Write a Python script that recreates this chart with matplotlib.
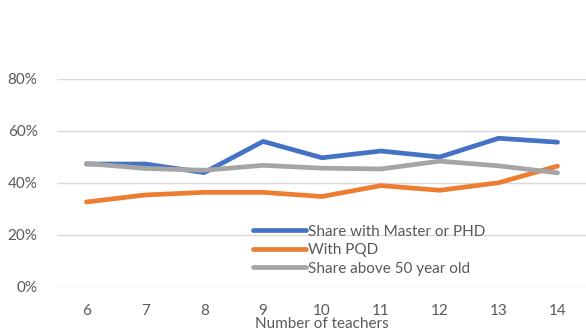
import numpy as np
import matplotlib
matplotlib.use("Agg")
import matplotlib.pyplot as plt

plt.rcParams['font.family'] = ['Lato', 'DejaVu Sans']

# Data
teachers = ['6', '7', '8', '9', '10', '11', '12', '13', '14']
master_phd = [0.473, 0.473, 0.44, 0.56, 0.497, 0.523, 0.50, 0.572, 0.557]
with_pqd = [0.327, 0.354, 0.364, 0.364, 0.348, 0.39, 0.372, 0.401, 0.465]
above_50 = [0.475, 0.456, 0.449, 0.468, 0.457, 0.454, 0.484, 0.466, 0.439]
yticks = [0, 0.2, 0.4, 0.6, 0.8]

fig = plt.figure(figsize=(5.86, 3.35), dpi=100)
ax = fig.add_axes([57/586, 1-287/335, 530/586, 208/335])

x = np.arange(len(teachers))
lw = 3.4
l1, = ax.plot(x, master_phd, color='#4472C4', lw=lw, solid_capstyle='round', solid_joinstyle='round', label='Share with Master or PHD')
l2, = ax.plot(x, with_pqd, color='#ED7D31', lw=lw, solid_capstyle='round', solid_joinstyle='round', label='With PQD')
l3, = ax.plot(x, above_50, color='#A5A5A5', lw=lw, solid_capstyle='round', solid_joinstyle='round', label='Share above 50 year old')

ax.set_xlim(-0.5, len(teachers)-0.5)
ax.set_ylim(0, 0.8)
ax.set_yticks(yticks)
ax.set_yticklabels(['%d%%' % round(v*100) for v in yticks])
ax.set_xticks(x)
ax.set_xticklabels(teachers)
ax.grid(axis='y', color='#D9D9D9', lw=1)
ax.set_axisbelow(True)
for s in ax.spines.values():
    s.set_visible(False)
ax.tick_params(length=0, colors='#595959', labelsize=11)
ax.tick_params(axis='y', pad=14)
ax.tick_params(axis='x', pad=12)
ax.set_xlabel('Number of teachers', color='#595959', fontsize=11)
ax.xaxis.set_label_coords((322-57)/530, -(317-287)/208)

leg = fig.legend(handles=[l1, l2, l3], loc='upper left',
                 bbox_to_anchor=(245/586, 1-217/335), frameon=False,
                 fontsize=11, handlelength=3.5, handletextpad=0.1,
                 labelspacing=0.3, borderpad=0)
for t in leg.get_texts():
    t.set_color('#595959')

fig.savefig('out.png', dpi=100)
